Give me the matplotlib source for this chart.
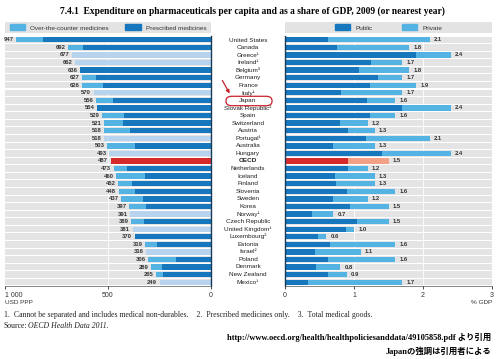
import matplotlib.pyplot as plt
import matplotlib.patches as mpatches
import numpy as np

countries = ["United States", "Canada", "Greece¹", "Ireland¹", "Belgium³", "Germany", "France",
             "Italy¹", "Japan", "Slovak Republic²", "Spain", "Switzerland", "Austria", "Portugal¹",
             "Australia", "Hungary", "OECD", "Netherlands", "Iceland", "Finland", "Slovenia",
             "Sweden", "Korea", "Norway¹", "Czech Republic", "United Kingdom¹", "Luxembourg²",
             "Estonia", "Israel²", "Poland", "Denmark", "New Zealand", "Mexico¹"]
# USD PPP per capita: total and prescribed part (None = cannot be separated)
total_usd = [947, 692, 677, 662, 636, 627, 626, 570, 556, 554, 529, 521, 518, 518, 503, 493,
             487, 473, 460, 452, 448, 437, 397, 391, 389, 381, 370, 319, 316, 306, 289, 265, 249]
prescribed_usd = [814, 623, None, None, 636, 558, 523, None, 477, 554, 421, 429, 393, None, 369,
                  None, 487, 409, 320, 385, 369, 332, 316, None, 324, None, 370, 264, None, 171,
                  239, 235, None]
# % GDP: total and public part
total_gdp = [2.1, 1.8, 2.4, 1.7, 1.8, 1.7, 1.9, 1.7, 1.6, 2.4, 1.6, 1.2, 1.3, 2.1, 1.3, 2.4,
             1.5, 1.2, 1.3, 1.3, 1.6, 1.2, 1.5, 0.7, 1.5, 1.0, 0.6, 1.6, 1.1, 1.6, 0.8, 0.9, 1.7]
public_gdp = [0.63, 0.76, 1.90, 1.25, 1.07, 1.35, 1.23, 0.81, 1.19, 1.69, 1.23, 0.80, 0.91, 1.17,
              0.69, 1.40, 0.91, 0.92, 0.73, 0.74, 0.90, 0.70, 0.94, 0.39, 1.04, 0.88, 0.48,
              0.65, 0.43, 0.63, 0.45, 0.63, 0.33]

DARK = "#1677bd"
MID = "#55b3e4"
PALE = "#b8d3ee"
RED = "#d62a2a"
SALMON = "#f2a086"
GRAY = "#e4e4e4"

W, H = 500, 359
fig = plt.figure(figsize=(5, 3.59), dpi=100)
plt.rcParams['font.family'] = ['Liberation Sans', 'DejaVu Sans']

def box(x0, y0, x1, y1):
    return [x0 / W, 1 - y1 / H, (x1 - x0) / W, (y1 - y0) / H]

n = len(countries)
y = np.arange(n)
oecd = countries.index("OECD")

# left panel
axl = fig.add_axes(box(5, 36, 211, 286))
axl.barh(y, 1000, left=-1000, height=0.86, color=GRAY, zorder=0)
for i in range(n):
    tot = total_usd[i]
    pre = prescribed_usd[i]
    if i == oecd:
        axl.barh(i, tot, left=-tot, height=0.7, color=RED, zorder=2)
    elif pre is None:
        axl.barh(i, tot, left=-tot, height=0.7, color=PALE, zorder=2)
    else:
        axl.barh(i, pre, left=-pre, height=0.7, color=DARK, zorder=2)
        if tot > pre:
            axl.barh(i, tot - pre, left=-tot, height=0.7, color=MID, zorder=2)
    axl.text(-tot - 12, i, str(tot), ha="right", va="center", fontsize=4.2,
             color="#333333", fontweight="bold")
axl.axvline(-500, color="white", lw=0.6, zorder=1)
axl.set_xlim(-1000, 0)
axl.set_ylim(n - 0.5, -0.5)
axl.set_yticks([])
axl.set_xticks([-1000, -500, 0])
axl.set_xticklabels(["1 000", "500", "0"], fontsize=5, color="#333333")
axl.get_xticklabels()[0].set_ha("left")
axl.tick_params(axis="x", length=2, width=0.5, pad=2)
for s in ["top", "left"]:
    axl.spines[s].set_visible(False)
axl.spines["right"].set_color("#1a3a5a")
axl.spines["right"].set_linewidth(1.0)
axl.spines["bottom"].set_linewidth(0.5)
axl.spines["bottom"].set_color("#555555")

# right panel
axr = fig.add_axes(box(285, 36, 492, 286))
axr.barh(y, 3, left=0, height=0.86, color=GRAY, zorder=0)
for i in range(n):
    c1, c2 = (RED, SALMON) if i == oecd else (DARK, MID)
    axr.barh(i, public_gdp[i], height=0.7, color=c1, zorder=2)
    axr.barh(i, total_gdp[i] - public_gdp[i], left=public_gdp[i], height=0.7, color=c2, zorder=2)
    axr.text(total_gdp[i] + 0.06, i, f"{total_gdp[i]:.1f}", ha="left", va="center",
             fontsize=4.2, color="#333333", fontweight="bold")
for g in [1, 2]:
    axr.axvline(g, color="white", lw=0.6, zorder=1)
axr.set_xlim(0, 3)
axr.set_ylim(n - 0.5, -0.5)
axr.set_yticks([])
axr.set_xticks([0, 1, 2, 3])
axr.set_xticklabels(["0", "1", "2", "3"], fontsize=5, color="#333333")
axr.tick_params(axis="x", length=2, width=0.5, pad=2)
for s in ["top", "right"]:
    axr.spines[s].set_visible(False)
axr.spines["left"].set_color("#1a3a5a")
axr.spines["left"].set_linewidth(1.0)
axr.spines["bottom"].set_linewidth(0.5)
axr.spines["bottom"].set_color("#555555")

# country names
for i, c in enumerate(countries):
    yy = 40 + i * (282 - 40) / (n - 1)
    fig.text(248 / W, 1 - yy / H, c, ha="center", va="center", fontsize=4.6,
             color="#222222", fontweight="bold" if c == "OECD" else "normal")

# legends
axlg = fig.add_axes(box(5, 22, 211, 33))
axlg.set_facecolor("#e3e3e3")
axlg.set_xticks([]); axlg.set_yticks([])
for s in axlg.spines.values():
    s.set_visible(False)
axlg.legend([mpatches.Patch(color=MID), mpatches.Patch(color=DARK)],
            ["Over-the-counter medicines", "Prescribed medicines"], ncol=2, loc="center",
            frameon=False, fontsize=4.6, handlelength=2.4, handleheight=1.0, columnspacing=2.6,
            handletextpad=0.8, borderpad=0, labelcolor="#333333")
axrg = fig.add_axes(box(285, 22, 492, 33))
axrg.set_facecolor("#e3e3e3")
axrg.set_xticks([]); axrg.set_yticks([])
for s in axrg.spines.values():
    s.set_visible(False)
axrg.legend([mpatches.Patch(color=DARK), mpatches.Patch(color=MID)],
            ["Public", "Private"], ncol=2, loc="center",
            frameon=False, fontsize=4.6, handlelength=2.4, handleheight=1.0, columnspacing=4.6,
            handletextpad=0.8, borderpad=0, labelcolor="#333333")

# title
fig.text(252 / W, 1 - 11 / H,
         "7.4.1  Expenditure on pharmaceuticals per capita and as a share of GDP, 2009 (or nearest year)",
         ha="center", va="center", fontsize=6.85, fontweight="bold", family="Liberation Serif")

fig.text(5 / W, 1 - 303 / H, "USD PPP", fontsize=4.6, color="#333333", va="center")
fig.text(492 / W, 1 - 303 / H, "% GDP", fontsize=4.6, color="#333333", va="center", ha="right")
fig.text(4 / W, 1 - 315 / H,
         "1.  Cannot be separated and includes medical non-durables.    2.  Prescribed medicines only.    3.  Total medical goods.",
         fontsize=5.6, va="center", family="Liberation Serif", color="#222222")
fig.text(4 / W, 1 - 326 / H, "Source:", fontsize=5.6, va="center", family="Liberation Serif",
         color="#222222")
fig.text(28 / W, 1 - 326 / H, "OECD Health Data 2011.", fontsize=5.6, va="center",
         family="Liberation Serif", style="italic", color="#222222")

fig.text(491 / W, 1 - 337 / H, "http://www.oecd.org/health/healthpoliciesanddata/49105858.pdf より引用",
         ha="right", va="center", fontsize=6.0, fontweight="bold",
         family=["Liberation Serif", "Noto Sans CJK JP"])
fig.text(491 / W, 1 - 351 / H, "Japanの強調は引用者による",
         ha="right", va="center", fontsize=6.0, fontweight="bold",
         family=["Liberation Serif", "Noto Sans CJK JP"])

# red annotation around Japan
ell = mpatches.FancyBboxPatch((227 / W, 1 - 105 / H), 44 / W, 8 / H,
                              boxstyle="round,pad=0.002,rounding_size=0.012",
                              transform=fig.transFigure, fill=False, ec="#c8202a", lw=0.9)
fig.patches.append(ell)
fig.patches.append(mpatches.FancyArrowPatch((221 / W, 1 - 78 / H), (231 / W, 1 - 96 / H),
                                            transform=fig.transFigure, arrowstyle="-|>",
                                            mutation_scale=5, color="#c8202a", lw=0.9))

fig.savefig("out.png", dpi=100)
